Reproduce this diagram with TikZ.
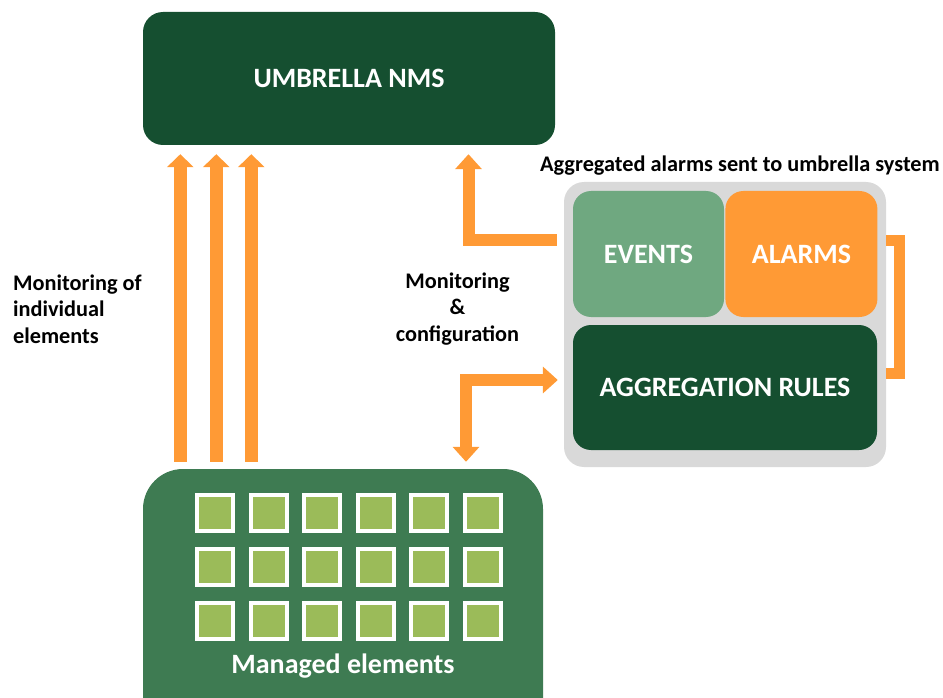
\documentclass[tikz,border=0pt]{standalone}
\usepackage{fontspec}
\setmainfont{Carlito}
\usetikzlibrary{positioning,arrows.meta,calc}

\definecolor{nmsgreen}{HTML}{154F30}
\definecolor{evgreen}{HTML}{6FA880}
\definecolor{megreen}{HTML}{3E7B52}
\definecolor{elgreen}{HTML}{9BBB59}
\definecolor{alorange}{HTML}{FF9A35}
\definecolor{boxgray}{HTML}{D9D9D9}

\begin{document}
\begin{tikzpicture}[
    x=1pt, y=-1pt,
    >={Triangle[width=26pt,length=15pt]},
    block/.style={rectangle, fill=#1, rounded corners=18pt, inner sep=0pt, text=white, font=\fontsize{28}{32}\selectfont\bfseries},
    elem/.style={rectangle, fill=elgreen, draw=white, line width=4pt, minimum size=36pt, inner sep=0pt},
    lbl/.style={font=\fontsize{22.3}{26.5}\selectfont\bfseries, inner sep=0pt},
    uparrow/.style={draw=alorange, line width=13pt, -{Triangle[width=26pt,length=13pt]}},
    flow/.style={draw=alorange, line width=12pt, line join=miter},
    link/.style={draw=alorange, line width=11pt, line join=miter},
]
\clip (0,0) rectangle (943,698);

% top system
\node[block=nmsgreen, rounded corners=20pt, minimum width=412pt, minimum height=133pt] (umbrella) at (349,78.5) {UMBRELLA NMS};

% managed elements
\node[block=megreen, rounded corners=40pt, minimum width=400pt, minimum height=270pt] (managed) at (343,604) {};
\node[text=white, font=\fontsize{28}{32}\selectfont\bfseries, inner sep=0pt] (melabel) at (343,666) {Managed elements};
\foreach \i in {0,...,5}
  \foreach \j in {0,...,2}
    \node[elem] (el-\i-\j) at ({215+53.6*\i},{513+54*\j}) {};

% aggregation system
\node[rectangle, fill=boxgray, rounded corners=20pt, minimum width=322pt, minimum height=285pt, inner sep=0pt] (cont) at (725,324.5) {};
\node[block=evgreen, minimum width=151pt, minimum height=126pt] (events) at (648.5,254) {EVENTS};
\node[block=alorange, minimum width=152pt, minimum height=126pt, right=1pt of events] (alarms) {ALARMS};
\node[block=nmsgreen, minimum width=304pt, minimum height=125pt] (rules) at (725,387.5) {AGGREGATION RULES};

% labels
\node[lbl, anchor=west, align=left] (monelem) at (13,309) {Monitoring of\\individual\\elements};
\node[lbl, align=center] (monconf) at (457.5,309) {Monitoring\\\&\\configuration};
\node[lbl] (aggsent) at (740,166) {Aggregated alarms sent to umbrella system};

% connectors
\foreach \dx in {37.5,73.5,108.5}
  \draw[uparrow] ([xshift=\dx pt,yshift=7pt]managed.north west) -- ([xshift=\dx pt,yshift=-9pt]umbrella.south west);
\draw[flow, ->] ($(cont.west |- events.west)+(-7,-14)$) -| ([xshift=119.5pt,yshift=-9pt]umbrella.south);
\draw[flow, <->] ([xshift=123pt,yshift=7pt]managed.north) |- ($(cont.west |- rules.west)+(-6,-7.5)$);
\draw[link] ($(cont.east |- alarms.east)+(0,-14)$) -- ++(13,0) |- ($(cont.east |- rules.east)+(0,-14.5)$);
\end{tikzpicture}
\end{document}
